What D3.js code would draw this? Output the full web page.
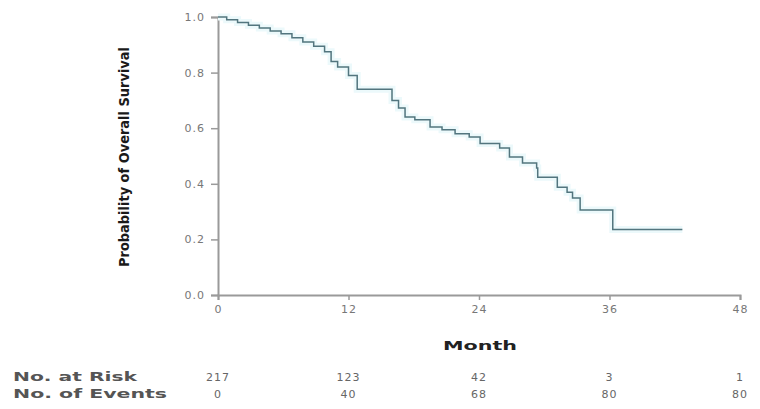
<!DOCTYPE html>
<html>
<head>
<meta charset="utf-8">
<script src="https://cdn.jsdelivr.net/npm/d3@7"></script>
<style>
  body { margin: 0; background: #fff; }
  text { font-family: "DejaVu Sans", Arial, sans-serif; }
</style>
</head>
<body>
<svg id="chart" width="760" height="409"></svg>
<script>
// Kaplan-Meier steps (month, survival)
const months = [0, 0.8, 1.8, 2.8, 3.8, 4.8, 5.8, 6.8, 7.8, 8.8, 9.8, 10.4, 11.0, 12.0, 12.8, 16.0, 16.6, 17.2, 18.1, 19.5, 20.6, 21.8, 23.1, 24.1, 25.9, 26.8, 28.0, 29.3, 29.4, 31.2, 32.1, 32.6, 33.3, 36.3, 42.7]
const survival = [1.0, 0.99, 0.98, 0.97, 0.96, 0.95, 0.94, 0.925, 0.91, 0.895, 0.875, 0.84, 0.82, 0.79, 0.74, 0.70, 0.673, 0.64, 0.63, 0.604, 0.594, 0.58, 0.568, 0.545, 0.529, 0.496, 0.475, 0.457, 0.424, 0.388, 0.37, 0.349, 0.306, 0.236, 0.236]

const xTicks = [0, 12, 24, 36, 48]
const yTicks = [0, 0.2, 0.4, 0.6, 0.8, 1.0]
const atRisk = [217, 123, 42, 3, 1]
const events = [0, 40, 68, 80, 80]

const svg = d3.select('#chart')

const x = d3.scaleLinear().domain([0, 48]).range([218, 740])
const y = d3.scaleLinear().domain([0, 1]).range([295, 17])

const axisColor = '#9a9a9a'

// y axis
const yAxis = svg.append('g')
  .attr('transform', 'translate(218,0)')
  .call(d3.axisLeft(y).tickValues(yTicks).tickFormat(d3.format('.1f')).tickSize(7).tickPadding(6))
yAxis.select('.domain').attr('stroke', axisColor).attr('stroke-width', 2)
yAxis.selectAll('.tick line').attr('stroke', axisColor).attr('stroke-width', 1.5)
yAxis.selectAll('.tick text').attr('fill', '#777').attr('font-size', 11)
  .attr('letter-spacing', 1)

// x axis
const xAxis = svg.append('g')
  .attr('transform', 'translate(0,295)')
  .call(d3.axisBottom(x).tickValues(xTicks).tickSize(5).tickPadding(5))
xAxis.select('.domain').attr('stroke', axisColor).attr('stroke-width', 2)
xAxis.selectAll('.tick line').attr('stroke', axisColor).attr('stroke-width', 1.5)
xAxis.selectAll('.tick text').attr('fill', '#777').attr('font-size', 11)
  .attr('letter-spacing', 1)

// axis titles
svg.append('text')
  .attr('transform', 'translate(129,157) rotate(-90)')
  .attr('text-anchor', 'middle')
  .attr('font-size', 14)
  .attr('font-weight', 'bold')
  .attr('fill', '#1a1a1a')
  .attr('textLength', 220)
  .attr('lengthAdjust', 'spacingAndGlyphs')
  .text('Probability of Overall Survival')

svg.append('text')
  .attr('x', 480).attr('y', 350)
  .attr('text-anchor', 'middle')
  .attr('font-size', 13)
  .attr('font-weight', 'bold')
  .attr('fill', '#222')
  .attr('textLength', 74)
  .attr('lengthAdjust', 'spacingAndGlyphs')
  .text('Month')

// survival curve
const pts = months.map((m, i) => [m, survival[i]])
const line = d3.line()
  .x(d => x(d[0]))
  .y(d => y(d[1]))
  .curve(d3.curveStepAfter)

svg.append('path')
  .datum(pts)
  .attr('fill', 'none')
  .attr('stroke', '#ecf9fb')
  .attr('stroke-width', 7)
  .attr('d', line)

svg.append('path')
  .datum(pts)
  .attr('fill', 'none')
  .attr('stroke', '#52757e')
  .attr('stroke-width', 1.5)
  .attr('d', line)

// risk table
const rows = [
  { label: 'No. at Risk', vals: atRisk, yPos: 381, len: 124 },
  { label: 'No. of Events', vals: events, yPos: 398, len: 154 }
]
rows.forEach(r => {
  svg.append('text')
    .attr('x', 13).attr('y', r.yPos)
    .attr('font-size', 12)
    .attr('font-weight', 'bold')
    .attr('fill', '#555')
    .attr('textLength', r.len)
    .attr('lengthAdjust', 'spacingAndGlyphs')
    .text(r.label)
  svg.selectAll(null)
    .data(r.vals)
    .enter()
    .append('text')
    .attr('x', (d, i) => x(xTicks[i]))
    .attr('y', r.yPos)
    .attr('text-anchor', 'middle')
    .attr('font-size', 11)
    .attr('letter-spacing', 1)
    .attr('fill', '#666')
    .text(d => d)
})
</script>
</body>
</html>
